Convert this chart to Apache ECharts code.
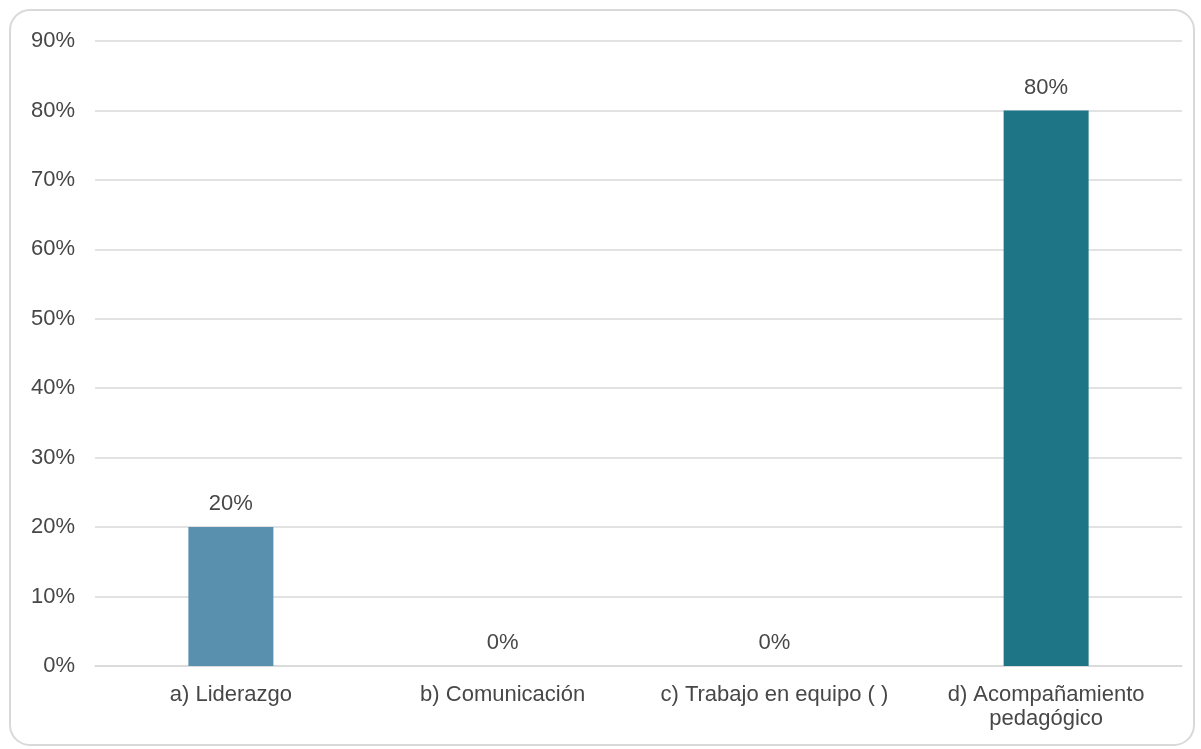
<!DOCTYPE html>
<html>
<head>
<meta charset="utf-8">
<title>Bar chart</title>
<script src="https://cdn.jsdelivr.net/npm/echarts@6/dist/echarts.min.js"></script>
<style>
  html, body { margin: 0; padding: 0; background: #ffffff; }
  #chart { width: 1201px; height: 749px; }
</style>
</head>
<body>
<div id="chart"></div>
<script>
// Categories and percentage values
const categories = [
  'a) Liderazgo',
  'b) Comunicación',
  'c) Trabajo en equipo ( )',
  'd) Acompañamiento\npedagógico'
];
const values = [20, 0, 0, 80];
const barColors = ['#5990ad', '#5990ad', '#5990ad', '#1d7585'];
const yTicks = { min: 0, max: 90, interval: 10 };

const FONT = '"Liberation Sans", Arial, sans-serif';
const TEXT = '#474747';
const SIZE = 22;

const chart = echarts.init(document.getElementById('chart'), null, { renderer: 'canvas' });

chart.setOption({
  backgroundColor: '#ffffff',
  animation: false,
  graphic: [{
    type: 'rect',
    shape: { x: 10, y: 10, width: 1184, height: 735, r: 20 },
    style: { fill: 'none', stroke: '#d9d9d9', lineWidth: 2 },
    silent: true,
    z: -1
  }],
  grid: { left: 95, right: 19, top: 41, bottom: 83, containLabel: false },
  xAxis: {
    type: 'category',
    data: categories,
    axisLine: { show: true, lineStyle: { color: '#d9d9d9', width: 1.5 } },
    axisTick: { show: false },
    axisLabel: {
      color: TEXT,
      fontFamily: FONT,
      fontSize: SIZE,
      margin: 17,
      lineHeight: 24,
      interval: 0
    }
  },
  yAxis: {
    type: 'value',
    min: yTicks.min,
    max: yTicks.max,
    interval: yTicks.interval,
    axisLine: { show: false },
    axisTick: { show: false },
    splitLine: { lineStyle: { color: '#d9d9d9', width: 1.5 } },
    axisLabel: {
      color: TEXT,
      fontFamily: FONT,
      fontSize: SIZE,
      margin: 20,
      formatter: v => v + '%'
    }
  },
  series: [{
    type: 'bar',
    data: values.map((v, i) => ({ value: v, itemStyle: { color: barColors[i] } })),
    barWidth: 85,
    label: {
      show: true,
      position: 'top',
      distance: 12,
      color: TEXT,
      fontFamily: FONT,
      fontSize: SIZE,
      formatter: p => p.value + '%'
    }
  }]
});
</script>
</body>
</html>
